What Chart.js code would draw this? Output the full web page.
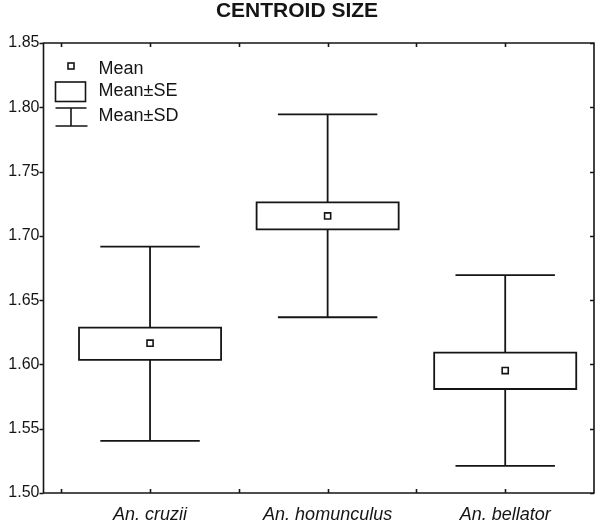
<!DOCTYPE html>
<html>
<head>
<meta charset="utf-8">
<script src="https://cdn.jsdelivr.net/npm/chart.js@4/dist/chart.umd.min.js"></script>
<style>
  html, body { margin: 0; padding: 0; background: #fff; }
  #wrap { width: 600px; height: 529px; }
</style>
</head>
<body>
<div id="wrap"><canvas id="centroid" width="600" height="529"></canvas></div>
<script>
// Donnees
const categories = ['An. cruzii', 'An. homunculus', 'An. bellator'];
const means  = [1.6165, 1.7155, 1.5952];
const seLow  = [1.6035, 1.7051, 1.5809];
const seHigh = [1.6286, 1.7261, 1.6092];
const sdLow  = [1.5405, 1.6367, 1.5211];
const sdHigh = [1.6916, 1.7945, 1.6694];
const yTicks = [1.50, 1.55, 1.60, 1.65, 1.70, 1.75, 1.80, 1.85];
const xMinorTicks = [0.5, 1, 1.5, 2, 2.5, 3];

const FONT = "'Liberation Sans', Arial, sans-serif";
const INK = '#151515';
const BOX_HALF = 0.4;
const CAP_HALF = 0.28;

// Boites, moustaches, cadre et legende
const boxPlugin = {
    id: 'boxPlugin',
    beforeDatasetsDraw(chart) {
        const ctx = chart.ctx;
        const xs = chart.scales.x, ys = chart.scales.y;
        ctx.save();
        ctx.strokeStyle = INK;
        ctx.lineWidth = 1.8;
        categories.forEach((c, i) => {
            const pos = i + 1;
            const xl = xs.getPixelForValue(pos - BOX_HALF);
            const xr = xs.getPixelForValue(pos + BOX_HALF);
            const xc = xs.getPixelForValue(pos);
            const cl = xs.getPixelForValue(pos - CAP_HALF);
            const cr = xs.getPixelForValue(pos + CAP_HALF);
            const yTop = ys.getPixelForValue(seHigh[i]);
            const yBot = ys.getPixelForValue(seLow[i]);
            const yMax = ys.getPixelForValue(sdHigh[i]);
            const yMin = ys.getPixelForValue(sdLow[i]);
            ctx.beginPath();
            ctx.rect(xl, yTop, xr - xl, yBot - yTop);
            ctx.moveTo(xc, yTop); ctx.lineTo(xc, yMax);
            ctx.moveTo(cl, yMax); ctx.lineTo(cr, yMax);
            ctx.moveTo(xc, yBot); ctx.lineTo(xc, yMin);
            ctx.moveTo(cl, yMin); ctx.lineTo(cr, yMin);
            ctx.stroke();
        });
        ctx.restore();
    },
    afterDraw(chart) {
        const ctx = chart.ctx;
        const a = chart.chartArea;
        const xs = chart.scales.x, ys = chart.scales.y;
        ctx.save();
        ctx.strokeStyle = INK;
        ctx.lineWidth = 1.6;
        ctx.beginPath();
        ctx.rect(a.left, a.top, a.right - a.left, a.bottom - a.top);
        xMinorTicks.forEach(v => {
            const x = Math.round(xs.getPixelForValue(v)) + 0.5;
            ctx.moveTo(x, a.bottom); ctx.lineTo(x, a.bottom - 4);
            ctx.moveTo(x, a.top); ctx.lineTo(x, a.top + 4);
        });
        yTicks.forEach(v => {
            const y = Math.round(ys.getPixelForValue(v)) + 0.5;
            ctx.moveTo(a.left, y); ctx.lineTo(a.left - 4, y);
            ctx.moveTo(a.right, y); ctx.lineTo(a.right - 4, y);
        });
        ctx.stroke();

        // Legende
        const lx = a.left;
        const ly = a.top;
        ctx.lineWidth = 1.6;
        ctx.fillStyle = '#fff';
        ctx.fillRect(lx + 24.5, ly + 20, 6, 6);
        ctx.strokeRect(lx + 24.5, ly + 20, 6, 6);
        ctx.strokeRect(lx + 12, ly + 39, 30, 19.5);
        ctx.beginPath();
        ctx.moveTo(lx + 12, ly + 65); ctx.lineTo(lx + 43, ly + 65);
        ctx.moveTo(lx + 27.5, ly + 65); ctx.lineTo(lx + 27.5, ly + 83);
        ctx.moveTo(lx + 12, ly + 83); ctx.lineTo(lx + 44, ly + 83);
        ctx.stroke();
        ctx.fillStyle = INK;
        ctx.font = '18px ' + FONT;
        ctx.textBaseline = 'middle';
        ctx.textAlign = 'left';
        ctx.fillText('Mean', lx + 55, ly + 26);
        ctx.fillText('Mean\u00b1SE', lx + 55, ly + 48);
        ctx.fillText('Mean\u00b1SD', lx + 55, ly + 73);
        ctx.restore();
    }
};

document.addEventListener('DOMContentLoaded', function() {
    const ctx = document.getElementById('centroid');
    new Chart(ctx, {
        type: 'scatter',
        data: {
            datasets: [{
                label: 'Mean',
                data: means.map((m, i) => ({x: i + 1, y: m})),
                pointStyle: 'rect',
                pointRadius: 4.3,
                pointHoverRadius: 4.3,
                borderWidth: 1.6,
                borderColor: INK,
                backgroundColor: '#fff'
            }]
        },
        options: {
            responsive: false,
            animation: false,
            events: [],
            layout: { padding: { left: 0, right: 6, top: 0, bottom: 0 } },
            plugins: {
                legend: { display: false },
                tooltip: { enabled: false },
                title: {
                    display: true,
                    text: 'CENTROID SIZE',
                    color: INK,
                    font: { family: FONT, size: 21, weight: 'bold', lineHeight: 1 },
                    padding: { top: 1, bottom: 21 }
                }
            },
            scales: {
                x: {
                    type: 'linear',
                    min: 0.4,
                    max: 3.5,
                    grid: { display: false, drawTicks: false },
                    border: { display: false },
                    afterBuildTicks: s => { s.ticks = categories.map((c, i) => ({value: i + 1})); },
                    afterFit: s => { s.height = 36; },
                    ticks: {
                        autoSkip: false,
                        maxRotation: 0,
                        padding: 11,
                        color: INK,
                        font: { family: FONT, size: 18, style: 'italic' },
                        callback: (v, i) => categories[i]
                    }
                },
                y: {
                    min: 1.5,
                    max: 1.85,
                    grid: { display: false, drawTicks: false },
                    border: { display: false },
                    afterBuildTicks: s => { s.ticks = yTicks.map(v => ({value: v})); },
                    afterFit: s => { s.width = 43.5; },
                    ticks: {
                        padding: 4,
                        color: INK,
                        font: { family: FONT, size: 16 },
                        callback: v => Number(v).toFixed(2)
                    }
                }
            }
        },
        plugins: [boxPlugin]
    });
});
</script>
</body>
</html>
